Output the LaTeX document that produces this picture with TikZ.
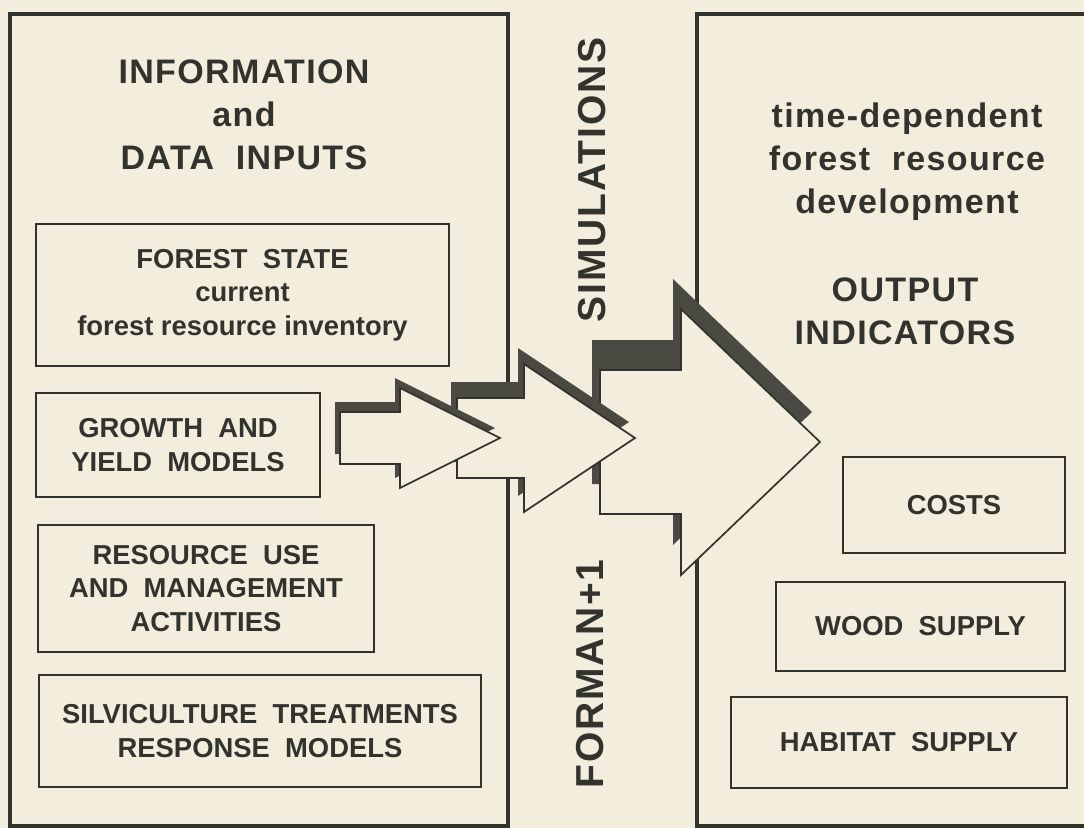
\documentclass[tikz,border=0pt]{standalone}
\usepackage{fontspec}
\setmainfont{Liberation Sans}
\newfontfamily\headfont[LetterSpace=4]{Liberation Sans}
\newfontfamily\sidefont[LetterSpace=5]{Liberation Sans}
\usepackage{xcolor}
\definecolor{Paper}{HTML}{F2EDDC}
\definecolor{Ink}{HTML}{33332D}
\definecolor{Shade}{HTML}{4A4A42}
% block arrow with a raised shadow:
% tail x, barb x, tip x, centre y, shaft half, head half, shadow dx, shadow dy
\newcommand{\flowarrow}[8]{%
  \fill[Shade,shift={(#7,#8)}] (#1,#4+#5) -- (#2,#4+#5) -- (#2,#4+#6) -- (#3,#4)
    -- (#2,#4-#6) -- (#2,#4-#5) -- (#1,#4-#5) -- cycle;
  \filldraw[fill=Paper,draw=Ink,line width=1.7pt] (#1,#4+#5) -- (#2,#4+#5) -- (#2,#4+#6) -- (#3,#4)
    -- (#2,#4-#6) -- (#2,#4-#5) -- (#1,#4-#5) -- cycle;}

\begin{document}
\begin{tikzpicture}[x=1pt,y=1pt,line join=miter,
  panel/.style={draw=Ink,line width=4.4pt,inner sep=0pt},
  item/.style={draw=Ink,line width=2.4pt,inner sep=0pt,align=center,text=Ink,
    font=\bfseries\fontsize{27.4}{33.5}\selectfont},
  head/.style={align=center,text=Ink,inner sep=0pt,font=\headfont\bfseries\fontsize{34}{43}\selectfont},
  side/.style={rotate=90,text=Ink,inner sep=0pt,font=\sidefont\bfseries\fontsize{39}{39}\selectfont}]
\useasboundingbox (0,0) rectangle (1084,-828);
\fill[Paper] (0,0) rectangle (1084,-828);
\clip (0,0) rectangle (1084,-828);

% two panels, the right one runs off the page
\node[panel,minimum width=498pt,minimum height=812pt] (inputs) at (259,-420) {};
\node[panel,minimum width=410pt,minimum height=812pt] (outputs) at (902,-420) {};

\node[head] (intitle) at (244,-115) {INFORMATION\\and\\DATA\ \ INPUTS};
\node[head] (devtitle) at (907,-162) {time-dependent\\forest\ \ resource\\development};
\node[head] (outtitle) at (905,-311) {OUTPUT\\INDICATORS};

% input boxes
\node[item,minimum width=413pt,minimum height=142pt] (state) at (242.5,-295)
  {FOREST\ \ STATE\\current\\forest resource inventory};
\node[item,minimum width=284pt,minimum height=104pt] (growth) at (178,-445)
  {GROWTH\ \ AND\\YIELD\ \ MODELS};
\node[item,minimum width=336pt,minimum height=127pt] (use) at (206,-588.5)
  {RESOURCE\ \ USE\\AND\ \ MANAGEMENT\\ACTIVITIES};
\node[item,minimum width=442pt,minimum height=112pt] (silvi) at (260,-731)
  {SILVICULTURE\ \ TREATMENTS\\RESPONSE\ \ MODELS};

% output boxes
\node[item,minimum width=222pt,minimum height=96pt] (costs) at (954,-505) {COSTS};
\node[item,minimum width=289pt,minimum height=89pt] (wood) at (920.5,-626.5) {WOOD\ \ SUPPLY};
\node[item,minimum width=336pt,minimum height=91pt] (habitat) at (899,-742.5) {HABITAT\ \ SUPPLY};

\node[side] (sim) at (592,-180) {SIMULATIONS};
\node[side] (forman) at (590,-674) {FORMAN+1};

% arrows, back to front
\flowarrow{600}{681}{820}{-442}{72}{133}{-8}{30}
\flowarrow{457}{524}{635}{-438}{40}{74}{-6}{16}
\flowarrow{340}{400}{500}{-438}{26}{50}{-5}{10}
\end{tikzpicture}
\end{document}
